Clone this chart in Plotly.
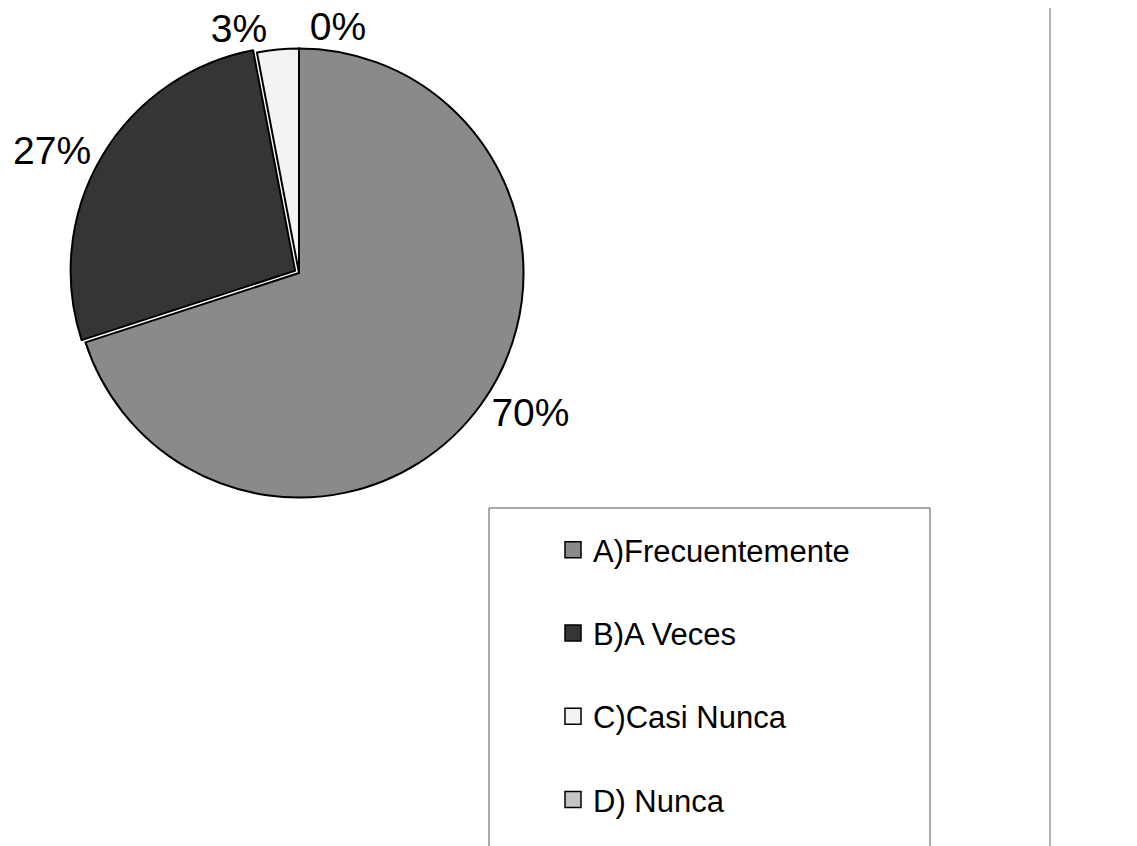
import plotly.graph_objects as go

# Datos del grafico
categorias = ['A)Frecuentemente', 'B)A Veces', 'C)Casi Nunca', 'D) Nunca']
porcentajes = [70, 27, 3, 0]
colores = ['#8a8a8a', '#353535', '#f3f3f3', '#c4c4c4']

W, H = 1137, 846
fuente = 'Liberation Sans, Arial, sans-serif'
OFF = 8  # margen del body de la pagina


def px(x):
    return (x - OFF) / W


def py(y):
    return 1 - (y - OFF) / H


fig = go.Figure()

fig.add_trace(go.Pie(
    labels=categorias,
    values=porcentajes,
    sort=False,
    direction='clockwise',
    rotation=0,
    pull=[0, 0.02, 0, 0],
    marker=dict(colors=colores, line=dict(color='black', width=2)),
    texttemplate='%{percent:.0%}',
    textposition='outside',
    textfont=dict(family=fuente, size=39, color='black'),
    showlegend=False,
    hoverinfo='label+percent',
    domain=dict(x=[px(8), px(590)], y=[py(502), py(44)]),
))

# leyenda con trazas auxiliares para poder separar los items
for cat, col in zip(categorias, colores):
    fig.add_trace(go.Scatter(
        x=[None], y=[None],
        mode='markers',
        name=cat,
        legendgroup=cat,
        marker=dict(symbol='square', size=16, color=col,
                    line=dict(color='black', width=1.5)),
    ))

fig.update_layout(
    width=W, height=H,
    margin=dict(l=0, r=0, t=0, b=0, autoexpand=False),
    paper_bgcolor='white',
    plot_bgcolor='white',
    xaxis=dict(visible=False),
    yaxis=dict(visible=False),
    legend=dict(
        x=px(553), y=py(523),
        xanchor='left', yanchor='top',
        font=dict(family=fuente, size=31, color='black'),
        tracegroupgap=40,
        bgcolor='rgba(0,0,0,0)',
        itemsizing='trace',
    ),
    shapes=[
        # marco de la leyenda
        dict(type='rect', xref='paper', yref='paper',
             x0=px(489), x1=px(930), y0=-0.02, y1=py(508),
             line=dict(color='#555555', width=1)),
        # linea vertical de la hoja
        dict(type='line', xref='paper', yref='paper',
             x0=px(1050), x1=px(1050), y0=-0.02, y1=1.02,
             line=dict(color='#666666', width=1)),
    ],
)

fig.write_html('out.html')
